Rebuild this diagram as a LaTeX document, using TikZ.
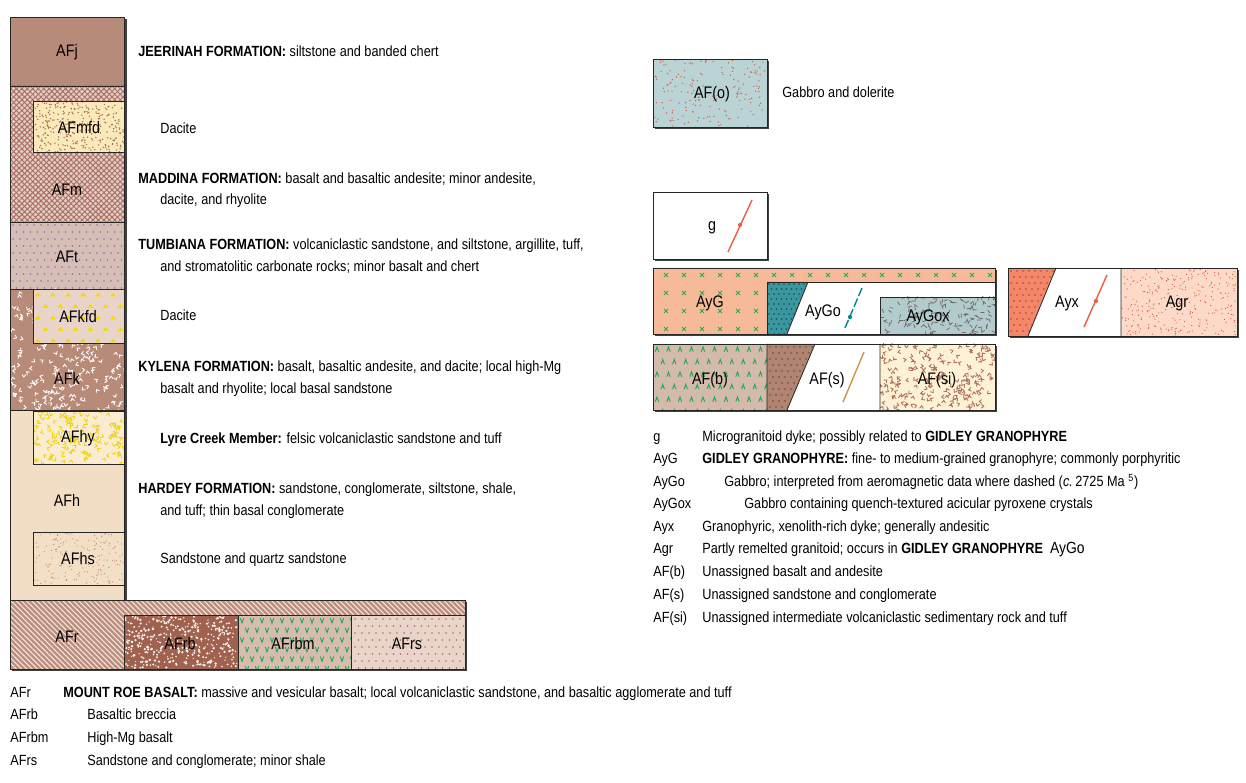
\documentclass[tikz,border=0pt]{standalone}
\usepackage{fontspec}
\setmainfont{Liberation Sans}[FakeStretch=0.86]
\usetikzlibrary{patterns.meta}
\definecolor{JClr}{RGB}{184,138,122}
\definecolor{MBase}{RGB}{228,204,196}
\definecolor{MLine}{RGB}{168,112,98}
\definecolor{MfdClr}{RGB}{250,234,185}
\definecolor{MfdDot}{RGB}{170,110,90}
\definecolor{TClr}{RGB}{214,190,182}
\definecolor{TDot}{RGB}{140,115,175}
\definecolor{KClr}{RGB}{184,138,120}
\definecolor{KfdClr}{RGB}{232,212,200}
\definecolor{KfdTri}{RGB}{245,220,0}
\definecolor{HClr}{RGB}{242,222,196}
\definecolor{HyClr}{RGB}{250,236,208}
\definecolor{HyV}{RGB}{240,210,20}
\definecolor{HsClr}{RGB}{243,223,198}
\definecolor{HsDot}{RGB}{190,140,110}
\definecolor{RClr}{RGB}{190,142,124}
\definecolor{RbClr}{RGB}{160,98,78}
\definecolor{RbmClr}{RGB}{214,188,174}
\definecolor{GreenV}{RGB}{20,170,80}
\definecolor{RsClr}{RGB}{234,212,202}
\definecolor{RsDot}{RGB}{170,110,100}
\definecolor{OClr}{RGB}{186,212,214}
\definecolor{RedDot}{RGB}{215,90,70}
\definecolor{AyGClr}{RGB}{246,186,152}
\definecolor{XGreen}{RGB}{40,170,90}
\definecolor{AyGoClr}{RGB}{60,150,160}
\definecolor{AyGoDot}{RGB}{15,80,90}
\definecolor{AyGoxClr}{RGB}{178,204,206}
\definecolor{DashClr}{RGB}{110,100,100}
\definecolor{AFbClr}{RGB}{212,186,170}
\definecolor{AFsClr}{RGB}{176,132,112}
\definecolor{AFsDot}{RGB}{110,70,55}
\definecolor{AFsiClr}{RGB}{253,242,214}
\definecolor{AFsiV}{RGB}{175,110,90}
\definecolor{AyxClr}{RGB}{242,135,105}
\definecolor{AyxDot}{RGB}{200,60,40}
\definecolor{AgrClr}{RGB}{253,218,200}
\definecolor{DykeRed}{RGB}{232,95,70}
\definecolor{DykeTeal}{RGB}{0,135,145}
\definecolor{DykeTan}{RGB}{205,150,75}
\tikzset{
  unit/.style={draw=black!85,line width=.45pt},
  shadowfill/.style={fill=black!75},
  code/.style={font=\fontsize{9.5}{10}\selectfont,inner sep=0pt},
  desc/.style={anchor=base west,inner sep=0pt,font=\fontsize{8.4}{9}\selectfont},
  vee/.style={line width=.5pt,line cap=round},
}
\begin{document}
\begin{tikzpicture}[x=0.02cm,y=-0.02cm]
\pgfmathsetseed{7}
\useasboundingbox (0,0) rectangle (1246,783);

% shadows
\fill[shadowfill] (12,19) rectangle (126.5,602);
\fill[shadowfill] (12,602) rectangle (467,671);
\fill[shadowfill] (655,61) rectangle (769,129);
\fill[shadowfill] (655,194) rectangle (769,261);
\fill[shadowfill] (655,270) rectangle (997,336);
\fill[shadowfill] (655,346) rectangle (997,412);
\fill[shadowfill] (1010,270) rectangle (1239,338);

% ---- left column ----
\fill[JClr] (10,17) rectangle (124,86);

\fill[MBase] (10,86) rectangle (124,222);
\fill[pattern={Lines[angle=45,distance=2.2pt,line width=.55pt]},pattern color=MLine] (10,86) rectangle (124,222);
\fill[pattern={Lines[angle=-45,distance=2.2pt,line width=.55pt]},pattern color=MLine] (10,86) rectangle (124,222);

\fill[MfdClr] (33,101) rectangle (124,152);
\foreach \k in {1,...,320} {\fill[MfdDot] ({33+91*rnd},{101+51*rnd}) circle[radius=.45pt];}

\fill[TClr] (10,222) rectangle (124,289);
\begin{scope}
\clip (10,222) rectangle (124,289);
\foreach \j in {0,...,9} {\foreach \i in {0,...,16} {\fill[TDot] ({13+7*\i+3.5*mod(\j,2)},{225+7*\j}) circle[radius=.45pt];}}
\end{scope}

\fill[KClr] (10,289) rectangle (124,410);
\begin{scope}
\clip (10,289) rectangle (124,410);
\foreach \k in {1,...,230} {\draw[vee,white,shift={({10+114*rnd},{289+121*rnd})},rotate={360*rnd}] (-1.8,-2.3) -- (0,0) -- (1.8,-2.3);}
\end{scope}

\fill[KfdClr] (33,289) rectangle (124,343);
\begin{scope}
\clip (33,289) rectangle (124,343);
\foreach \j in {0,...,4} {\foreach \i in {0,...,6} {\fill[KfdTri,shift={({38+15*\i+7.5*mod(\j,2)},{295+11.5*\j})}] (-3,1.5) -- (3,1.5) -- (0,-2.5) -- cycle;}}
\end{scope}

\fill[HClr] (10,410) rectangle (124,600);

\fill[HyClr] (33,411) rectangle (124,464);
\begin{scope}
\clip (33,411) rectangle (124,464);
\foreach \k in {1,...,150} {\draw[vee,HyV,shift={({33+91*rnd},{411+53*rnd})},rotate={360*rnd}] (-1.8,-2.3) -- (0,0) -- (1.8,-2.3);}
\end{scope}

\fill[HsClr] (33,532) rectangle (124,585);
\foreach \k in {1,...,170} {\fill[HsDot] ({34+89*rnd},{533+51*rnd}) circle[radius=.35pt];}

\draw[unit] (10,17) rectangle (124,600);
\draw[unit] (10,86) -- (124,86) (10,222) -- (124,222) (10,289) -- (124,289) (10,410) -- (124,410);
\draw[unit] (33,101) rectangle (124,152);
\draw[unit] (33,289) rectangle (124,343);
\draw[unit] (33,411) rectangle (124,464);
\draw[unit] (33,532) rectangle (124,585);

% ---- bottom bar ----
\fill[RClr] (10,600) rectangle (465,669);
\fill[pattern={Lines[angle=-45,distance=2.1pt,line width=.6pt]},pattern color=white!80!RClr] (10,600) rectangle (465,669);

\fill[RbClr] (124,615) rectangle (238,669);
\foreach \k in {1,...,380} {\fill[white!90!RbClr] ({125+112*rnd},{616+52*rnd}) circle[radius={.35pt+.45pt*rnd}];}

\fill[RbmClr] (238,615) rectangle (351,669);
\begin{scope}
\clip (238,615) rectangle (351,669);
\foreach \j in {0,...,5} {\foreach \i in {0,...,11} {\draw[vee,GreenV,shift={({242+10*\i+5*mod(\j,2)},{621+9.6*\j})}] (-1.6,-2.5) -- (0,2) -- (1.6,-2.5);}}
\end{scope}

\fill[RsClr] (351,615) rectangle (465,669);
\begin{scope}
\clip (351,615) rectangle (465,669);
\foreach \j in {0,...,7} {\foreach \i in {0,...,16} {\fill[RsDot] ({355+7*\i+3.5*mod(\j,2)},{619+7*\j}) circle[radius=.45pt];}}
\end{scope}

\draw[unit] (10,600) rectangle (465,669);
\draw[unit] (124,669) -- (124,615) -- (465,615);
\draw[unit] (238,615) -- (238,669) (351,615) -- (351,669);

% ---- box labels, left ----
\node[code] (afj) at (67,52) {AFj};
\node[code] (afmfd) at (79,128) {AFmfd};
\node[code] (afm) at (67,190) {AFm};
\node[code] (aft) at (67,257) {AFt};
\node[code] (afkfd) at (78,317) {AFkfd};
\node[code] (afk) at (67,378) {AFk};
\node[code] (afhy) at (78,438) {AFhy};
\node[code] (afh) at (67,500) {AFh};
\node[code] (afhs) at (78,559) {AFhs};
\node[code] (afr) at (67,637) {AFr};
\node[code] (afrb) at (180,644) {AFrb};
\node[code] (afrbm) at (293,644) {AFrbm};
\node[code] (afrs) at (407,644) {AFrs};

% ---- left texts ----
\node[desc] (jeerinah) at (138,57) {\textbf{JEERINAH FORMATION:} siltstone and banded chert};
\node[desc] (dacite1) at (160,134) {Dacite};
\node[desc] (maddina) at (138,184) {\textbf{MADDINA FORMATION:} basalt and basaltic andesite; minor andesite,};
\node[desc] (maddina2) at (160,205) {dacite, and rhyolite};
\node[desc] (tumbiana) at (138,250) {\textbf{TUMBIANA FORMATION:} volcaniclastic sandstone, and siltstone, argillite, tuff,};
\node[desc] (tumbiana2) at (160,272) {and stromatolitic carbonate rocks; minor basalt and chert};
\node[desc] (dacite2) at (160,321) {Dacite};
\node[desc] (kylena) at (138,372) {\textbf{KYLENA FORMATION:} basalt, basaltic andesite, and dacite; local high-Mg};
\node[desc] (kylena2) at (160,394) {basalt and rhyolite; local basal sandstone};
\node[desc] (lyre) at (160,443) {\textbf{Lyre Creek Member:} felsic volcaniclastic sandstone and tuff};
\node[desc] (hardey) at (138,493) {\textbf{HARDEY FORMATION:} sandstone, conglomerate, siltstone, shale,};
\node[desc] (hardey2) at (160,515) {and tuff; thin basal conglomerate};
\node[desc] (hsand) at (160,563) {Sandstone and quartz sandstone};

\node[desc] (kafr) at (10,697) {AFr};
\node[desc] (dafr) at (63,697) {\textbf{MOUNT ROE BASALT:} massive and vesicular basalt; local volcaniclastic sandstone, and basaltic agglomerate and tuff};
\node[desc] (kafrb) at (10,719) {AFrb};
\node[desc] (dafrb) at (87,719) {Basaltic breccia};
\node[desc] (kafrbm) at (10,742) {AFrbm};
\node[desc] (dafrbm) at (87,742) {High-Mg basalt};
\node[desc] (kafrs) at (10,765) {AFrs};
\node[desc] (dafrs) at (87,765) {Sandstone and conglomerate; minor shale};

% ---- right: AF(o) ----
\fill[OClr] (653,59) rectangle (767,127);
\foreach \k in {1,...,170} {\fill[RedDot] ({654+112*rnd},{60+66*rnd}) circle[radius=.4pt];}
\draw[unit] (653,59) rectangle (767,127);
\node[code] (afo) at (712,94) {AF(o)};
\node[desc] (dafo) at (782,98) {Gabbro and dolerite};

% ---- g ----
\fill[white] (653,192) rectangle (767,259);
\draw[unit] (653,192) rectangle (767,259);
\node[code] (g) at (712,228) {g};
\draw[DykeRed,line width=.8pt] (728,252) -- (752,200);
\fill[DykeRed] (740,225) circle[radius=1.2pt];

% ---- AyG row ----
\fill[white] (653,268) rectangle (995,334);
\fill[AyGClr] (653,268) -- (995,268) -- (995,282) -- (767,282) -- (767,334) -- (653,334) -- cycle;
\foreach \i in {0,...,18} {\draw[XGreen,line width=.5pt,shift={({666+18*\i},275)}] (-2,-2) -- (2,2) (-2,2) -- (2,-2);}
\foreach \j in {1,2,3} {\foreach \i in {0,...,5} {\draw[XGreen,line width=.5pt,shift={({666+18*\i},{275+18*\j})}] (-2,-2) -- (2,2) (-2,2) -- (2,-2);}}
\fill[AyGoClr] (767,282) -- (808,282) -- (787,334) -- (767,334) -- cycle;
\begin{scope}
\clip (767,282) -- (808,282) -- (787,334) -- (767,334) -- cycle;
\foreach \j in {0,...,10} {\foreach \i in {0,...,8} {\fill[AyGoDot] ({769+5*\i+2.5*mod(\j,2)},{284+5*\j}) circle[radius=.5pt];}}
\end{scope}
\fill[AyGoxClr] (880,297) rectangle (995,334);
\begin{scope}
\clip (880,297) rectangle (995,334);
\foreach \k in {1,...,150} {\draw[DashClr,line width=.4pt,shift={({880+115*rnd},{297+37*rnd})},rotate={360*rnd}] (-2,0) -- (2,0);}
\end{scope}
\draw[unit] (653,268) rectangle (995,334);
\draw[unit] (767,334) -- (767,282) -- (995,282);
\draw[unit] (808,282) -- (787,334);
\draw[unit] (880,334) -- (880,297) -- (995,297);
\draw[DykeTeal,line width=.8pt,dash pattern=on 5pt off 1.6pt] (845,328) -- (862,288);
\fill[DykeTeal] (850,317) circle[radius=1.2pt];
\node[code] (ayg) at (710,303) {AyG};
\node[code] (aygo) at (823,312) {AyGo};
\node[code] (aygox) at (928,317) {AyGox};

% ---- AF row ----
\fill[AFbClr] (653,344) rectangle (767,410);
\begin{scope}
\clip (653,344) rectangle (767,410);
\foreach \j in {0,...,5} {\foreach \i in {0,...,10} {\draw[vee,GreenV,shift={({657+11.5*\i+5.75*mod(\j,2)},{349+12.5*\j})}] (-1.6,2.5) -- (0,-2) -- (1.6,2.5);}}
\end{scope}
\fill[white] (767,344) rectangle (880,410);
\fill[AFsClr] (767,344) -- (815,344) -- (787,410) -- (767,410) -- cycle;
\begin{scope}
\clip (767,344) -- (815,344) -- (787,410) -- (767,410) -- cycle;
\foreach \j in {0,...,11} {\foreach \i in {0,...,8} {\fill[AFsDot] ({770+6*\i+3*mod(\j,2)},{347+6*\j}) circle[radius=.45pt];}}
\end{scope}
\fill[AFsiClr] (880,344) rectangle (995,410);
\begin{scope}
\clip (880,344) rectangle (995,410);
\foreach \k in {1,...,200} {\draw[vee,AFsiV,shift={({880+115*rnd},{344+66*rnd})},rotate={360*rnd}] (-1.8,-2.3) -- (0,0) -- (1.8,-2.3);}
\end{scope}
\draw[unit] (653,344) rectangle (995,410);
\draw[unit] (767,344) -- (767,410) (880,344) -- (880,410) (815,344) -- (787,410);
\draw[DykeTan,line width=.8pt] (843,402) -- (864,352);
\node[code] (afb) at (710,380) {AF(b)};
\node[code] (afs) at (827,380) {AF(s)};
\node[code] (afsi) at (937,380) {AF(si)};

% ---- Ayx / Agr ----
\fill[white] (1008,268) rectangle (1121,336);
\fill[AyxClr] (1008,268) -- (1056,268) -- (1028,336) -- (1008,336) -- cycle;
\begin{scope}
\clip (1008,268) -- (1056,268) -- (1028,336) -- (1008,336) -- cycle;
\foreach \j in {0,...,11} {\foreach \i in {0,...,8} {\fill[AyxDot] ({1011+6*\i+3*mod(\j,2)},{271+6*\j}) circle[radius=.45pt];}}
\end{scope}
\fill[AgrClr] (1121,268) rectangle (1237,336);
\foreach \k in {1,...,300} {\fill[RedDot] ({1122+114*rnd},{269+66*rnd}) circle[radius=.35pt];}
\draw[unit] (1008,268) rectangle (1237,336);
\draw[unit] (1121,268) -- (1121,336) (1056,268) -- (1028,336);
\draw[DykeRed,line width=.8pt] (1084,327) -- (1107,275);
\fill[DykeRed] (1096,301) circle[radius=1.2pt];
\node[code] (ayx) at (1067,303) {Ayx};
\node[code] (agr) at (1177,303) {Agr};

% ---- right list ----
\node[desc] (kg) at (653,441) {g};
\node[desc] (dg) at (702,441) {Microgranitoid dyke; possibly related to \textbf{GIDLEY GRANOPHYRE}};
\node[desc] (kayg) at (653,463) {AyG};
\node[desc] (dayg) at (702,463) {\textbf{GIDLEY GRANOPHYRE:} fine- to medium-grained granophyre; commonly porphyritic};
\node[desc] (kaygo) at (653,486) {AyGo};
\node[desc] (daygo) at (724,486) {Gabbro; interpreted from aeromagnetic data where dashed (\textit{c.}\,2725 Ma \textsuperscript{5})};
\node[desc] (kaygox) at (653,508) {AyGox};
\node[desc] (daygox) at (744,508) {Gabbro containing quench-textured acicular pyroxene crystals};
\node[desc] (kayx) at (653,531) {Ayx};
\node[desc] (dayx) at (702,531) {Granophyric, xenolith-rich dyke; generally andesitic};
\node[desc] (kagr) at (653,553) {Agr};
\node[desc] (dagr) at (702,553) {Partly remelted granitoid; occurs in \textbf{GIDLEY GRANOPHYRE}\ \ {\fontsize{9.2}{9}\selectfont AyGo}};
\node[desc] (kafb) at (653,576) {AF(b)};
\node[desc] (dafb) at (702,576) {Unassigned basalt and andesite};
\node[desc] (kafs) at (653,599) {AF(s)};
\node[desc] (dafs) at (702,599) {Unassigned sandstone and conglomerate};
\node[desc] (kafsi) at (653,622) {AF(si)};
\node[desc] (dafsi) at (702,622) {Unassigned intermediate volcaniclastic sedimentary rock and tuff};
\end{tikzpicture}
\end{document}
